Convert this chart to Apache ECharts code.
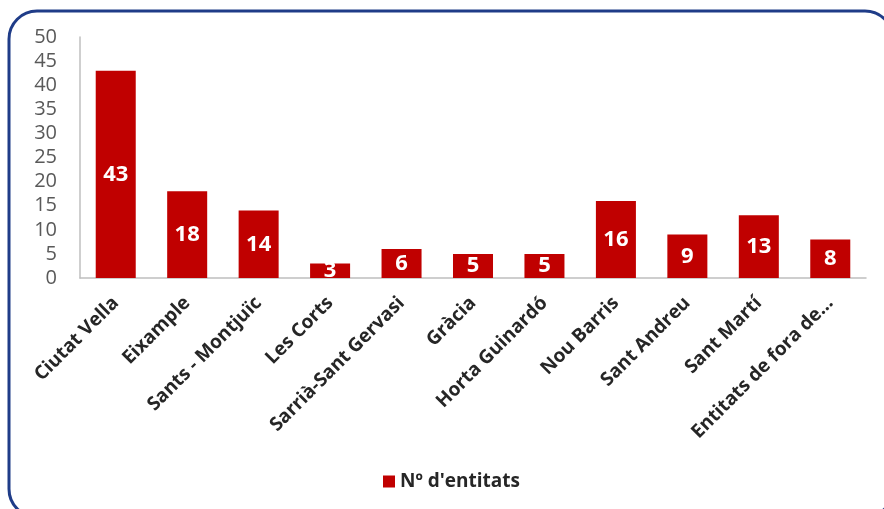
<!DOCTYPE html>
<html><head><meta charset="utf-8">
<script src="https://cdn.jsdelivr.net/npm/echarts@6/dist/echarts.min.js"></script>
<style>html,body{margin:0;padding:0;background:#fff}#c{width:884px;height:509px}</style>
</head><body><div id="c"></div>
<script>
const categories = ["Ciutat Vella","Eixample","Sants - Montjuïc","Les Corts","Sarrià-Sant Gervasi","Gràcia","Horta Guinardó","Nou Barris","Sant Andreu","Sant Martí","Entitats de fora de…"];
const entitats = [43,18,14,3,6,5,5,16,9,13,8];
const seriesName = "Nº d'entitats";
const yTicks = {min:0, max:50, interval:5};

const chart = echarts.init(document.getElementById('c'), null, {renderer:'canvas'});
chart.setOption({
  animation:false,
  textStyle:{fontFamily:'Open Sans'},
  graphic:[{type:'rect', shape:{x:9,y:11,width:884,height:506,r:28}, style:{fill:'none',stroke:'#1F3C88',lineWidth:3}, z:100}],
  grid:{left:80,right:18,top:37,bottom:231,containLabel:false},
  legend:{top:467,left:378,itemWidth:12,itemHeight:12,icon:'rect',itemGap:8,
    textStyle:{fontSize:19,fontWeight:'bold',color:'#262626',fontFamily:'Open Sans'}},
  xAxis:{type:'category',data:categories,
    axisLine:{lineStyle:{color:'#bfbfbf',width:1.5}},axisTick:{show:false},
    axisLabel:{interval:0,rotate:45,fontSize:19,fontWeight:'bold',color:'#262626',margin:22,fontFamily:'Open Sans'}},
  yAxis:{type:'value',min:yTicks.min,max:yTicks.max,interval:yTicks.interval,
    axisLine:{show:true,lineStyle:{color:'#bfbfbf',width:1.5}},axisTick:{show:false},splitLine:{show:false},
    axisLabel:{fontSize:20,color:'#595959',margin:23,fontFamily:'Open Sans'}},
  series:[{name:seriesName,type:'bar',data:entitats,barWidth:'56%',
    itemStyle:{color:'#C00000'},
    label:{show:true,position:'inside',color:'#fff',fontWeight:'bold',fontSize:22,fontFamily:'Open Sans'}}]
});
</script></body></html>
